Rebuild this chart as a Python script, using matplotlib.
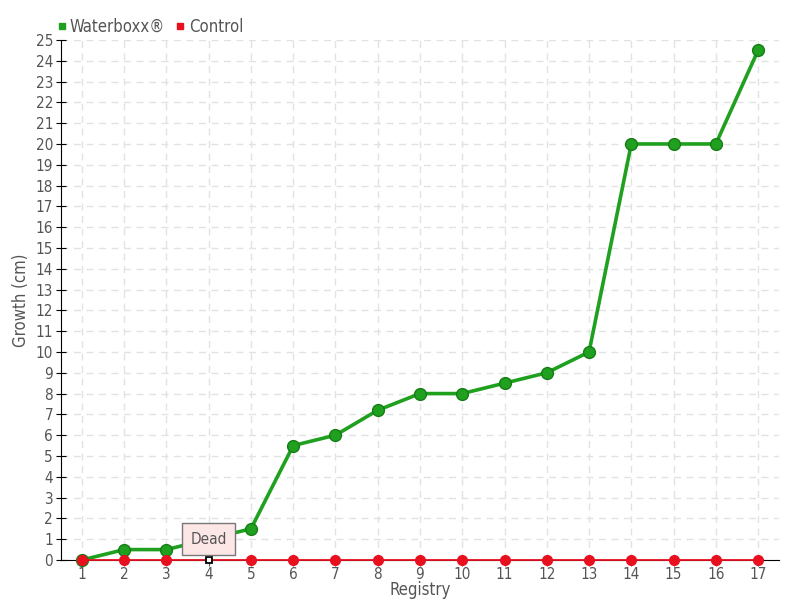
import matplotlib.pyplot as plt
from matplotlib.lines import Line2D

# data
registry = list(range(1, 18))
waterboxx = [0, 0.5, 0.5, 1.0, 1.5, 5.5, 6, 7.2, 8, 8, 8.5, 9, 10, 20, 20, 20, 24.5]
control = [0] * 17
dead_at = 4

plt.rcParams['font.family'] = ['DejaVu Sans']
plt.rcParams['font.stretch'] = 'condensed'
txt = '#555555'

fig = plt.figure(figsize=(8, 6), dpi=100)
ax = fig.add_axes([0.076, 0.0667, 0.898, 0.8667])

green = '#1fa01f'
red = '#e8101e'

ax.plot(registry, waterboxx, color=green, lw=2.6, zorder=3, clip_on=False)
ax.plot([x for x in registry if x != dead_at], [v for x, v in zip(registry, waterboxx) if x != dead_at],
        ls='none', marker='o', ms=8.5, mfc=green, mec='#167d16', mew=1, zorder=4, clip_on=False)
ax.plot(registry, control, color=red, lw=1.3, zorder=5, clip_on=False)
ax.plot([x for x in registry if x != dead_at], [v for x, v in zip(registry, control) if x != dead_at],
        ls='none', marker='o', ms=7, mfc=red, mec=red, zorder=6, clip_on=False)
ax.plot([dead_at], [control[dead_at - 1]], ls='none', marker='s', ms=5, mfc='white', mec='black',
        mew=1.3, zorder=7, clip_on=False)

ax.annotate('Dead', xy=(dead_at, 0), xytext=(0, 15), textcoords='offset points',
            ha='center', va='center', fontsize=11, color=txt,
            bbox=dict(boxstyle='square,pad=0.55', fc='#fde6e6', ec='#777777', lw=1),
            zorder=8)

ax.set_xlim(0.5, 17.5)
ax.set_ylim(0, 25)
ax.set_xticks(registry)
ax.set_yticks(range(0, 26))
ax.tick_params(axis='both', labelsize=11, labelcolor=txt, color='#555555', length=4, pad=1)
ax.tick_params(axis='y', direction='inout', length=7, color='black', pad=2)
ax.grid(True, ls=(0, (5, 4)), color='#e2e2e2', lw=1)
ax.set_axisbelow(True)
for s in ['top', 'right']:
    ax.spines[s].set_visible(False)
ax.spines['left'].set_color('black')
ax.spines['bottom'].set_color('black')
ax.set_xlabel('Registry', fontsize=12, color=txt, labelpad=-1)
ax.set_ylabel('Growth (cm)', fontsize=12, color=txt, labelpad=4)

handles = [Line2D([], [], ls='none', marker='s', ms=5, color=green),
           Line2D([], [], ls='none', marker='s', ms=5, color=red)]
fig.legend(handles, ['Waterboxx®', 'Control'], loc='upper left', bbox_to_anchor=(0.05, 0.995),
           ncol=2, frameon=False, fontsize=12, labelcolor=txt, handletextpad=0.1,
           columnspacing=0.5, handlelength=0.8)

fig.savefig('out.png', dpi=100)
